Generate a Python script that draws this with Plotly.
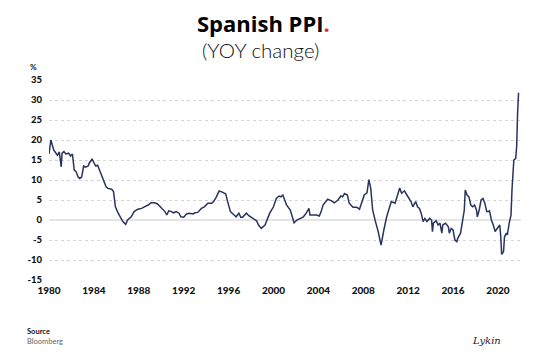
import plotly.graph_objects as go

dates = [
 "1980-01","1980-03","1980-04","1980-06","1980-09","1980-10","1980-12",
 "1981-02","1981-03","1981-05","1981-07","1981-10","1981-12",
 "1982-02","1982-03","1982-04","1982-06","1982-08","1982-10","1982-12",
 "1983-02","1983-04","1983-07","1983-08","1983-11",
 "1984-01","1984-03","1984-05","1984-07","1984-10","1984-12",
 "1985-02","1985-04","1985-08","1985-10","1985-12",
 "1986-03","1986-05","1986-08","1986-11",
 "1987-01","1987-05","1987-08","1987-12",
 "1988-04","1988-07","1988-11",
 "1989-02","1989-06","1989-09",
 "1990-01","1990-05","1990-07","1990-09","1990-12",
 "1991-02","1991-05","1991-08","1991-10",
 "1992-01","1992-04","1992-07","1992-11",
 "1993-01","1993-04","1993-08","1993-11",
 "1994-03","1994-07","1994-09","1994-12",
 "1995-03","1995-07","1995-10","1995-12",
 "1996-03","1996-07","1996-09","1996-12",
 "1997-02","1997-04","1997-08","1997-11",
 "1998-03","1998-07","1998-09","1998-12",
 "1999-04","1999-06","1999-09",
 "2000-01","2000-04","2000-07","2000-09","2000-11",
 "2001-01","2001-03","2001-07","2001-09","2001-11",
 "2002-02","2002-05","2002-09","2002-12",
 "2003-03","2003-04","2003-07","2003-11",
 "2004-02","2004-04","2004-06","2004-09","2004-11",
 "2005-03","2005-06","2005-10",
 "2006-01","2006-03","2006-05","2006-08","2006-10",
 "2007-02","2007-06","2007-09","2007-12",
 "2008-02","2008-05","2008-07","2008-09","2008-11",
 "2009-02","2009-05","2009-08","2009-09","2009-11",
 "2010-02","2010-04","2010-07","2010-11",
 "2011-02","2011-04","2011-06","2011-09","2011-11",
 "2012-02","2012-04","2012-06","2012-09","2012-11",
 "2013-01","2013-03","2013-05","2013-07","2013-09","2013-12",
 "2014-02","2014-03","2014-04","2014-07","2014-09","2014-11",
 "2015-01","2015-02","2015-05","2015-08","2015-09","2015-11",
 "2016-01","2016-03","2016-05","2016-06","2016-09","2016-11",
 "2017-01","2017-02","2017-04","2017-06","2017-08","2017-10","2017-12",
 "2018-02","2018-03","2018-05","2018-07","2018-09","2018-11",
 "2019-01","2019-03","2019-04","2019-06","2019-08","2019-10","2019-11",
 "2020-01","2020-03","2020-04","2020-05","2020-07","2020-08","2020-10","2020-11",
 "2021-01","2021-02","2021-03","2021-04","2021-05","2021-06","2021-08","2021-09","2021-10","2021-11",
]

ppi_yoy = [
 16.5,20.0,19.2,17.5,16.5,16.2,17.0,
 13.3,16.7,17.1,16.5,16.7,16.0,
 16.5,14.6,12.5,12.1,10.8,10.4,10.8,
 13.5,13.2,13.5,14.2,15.2,
 14.2,13.5,13.7,12.5,10.8,9.2,
 8.3,7.9,7.7,7.1,3.3,
 1.7,0.7,-0.4,-1.1,
 0.0,0.8,2.1,2.7,
 2.9,3.3,3.75,
 4.3,4.3,4.0,
 2.9,2.1,1.25,2.3,2.1,
 1.8,2.1,1.7,0.8,
 0.7,1.5,1.7,1.5,
 1.8,1.9,2.9,3.3,
 4.2,4.2,4.6,5.8,
 7.25,6.9,6.5,4.6,
 2.1,1.25,0.8,1.7,
 0.7,0.7,1.7,1.0,
 0.4,-0.2,-1.25,-2.1,
 -1.25,0.0,1.7,
 3.3,5.4,6.0,5.8,6.25,
 5.0,3.75,2.5,0.8,-0.7,
 0.0,0.4,0.8,1.7,
 2.9,1.25,1.25,1.25,
 1.0,2.1,3.75,4.6,5.2,
 4.8,4.3,5.0,
 6.0,5.8,6.6,6.25,4.2,
 3.2,3.2,2.7,4.6,
 6.25,6.8,10.1,7.9,2.5,
 -0.4,-2.9,-6.3,-4.6,-2.5,
 0.8,2.5,4.6,4.2,
 6.8,8.0,6.7,7.3,6.5,
 5.4,4.6,3.3,4.6,3.3,
 2.9,1.7,-0.4,0.4,-0.4,0.4,
 0.0,-2.9,-0.8,-0.2,-1.25,-0.8,
 -3.3,-1.25,-0.8,-1.7,-3.3,-2.1,
 -2.5,-5.0,-5.4,-4.6,-3.3,-0.4,
 2.5,7.5,6.25,5.8,3.75,3.3,3.75,
 2.5,0.8,2.5,5.0,5.4,4.2,
 2.1,2.1,2.3,0.0,-1.25,-2.9,-2.5,
 -1.7,-1.25,-4.2,-8.6,-7.9,-4.2,-3.3,-3.75,
 -0.8,0.8,1.2,7.5,12.5,15.0,15.4,18.3,26.7,31.8,
]

x_ticks = ["1980","1984","1988","1992","1996","2000","2004","2008","2012","2016","2020"]
y_ticks = [-15,-10,-5,0,5,10,15,20,25,30,35]

fig = go.Figure()
fig.add_trace(go.Scatter(
    x=[d + "-01" for d in dates], y=ppi_yoy, mode="lines",
    line=dict(color="#27345e", width=1.5), hoverinfo="skip", showlegend=False))

fig.update_layout(
    width=542, height=353,
    margin=dict(l=41, r=29, t=72, b=81),
    paper_bgcolor="white", plot_bgcolor="white",
    font=dict(family="Lato", color="#111111"),
    showlegend=False,
)
fig.update_xaxes(
    type="date", range=["1980-01-01", "2022-01-20"],
    tickvals=[t + "-01-01" for t in x_ticks], ticktext=x_ticks,
    showgrid=False, zeroline=False, showline=False, ticks="",
    ticklabelstandoff=3,
    tickfont=dict(family="Lato", size=10, color="#111111", weight=900),
)
fig.update_yaxes(
    range=[-15, 35], tickvals=y_ticks, ticktext=[str(v) for v in y_ticks],
    showgrid=True, gridcolor="#d4d4d4", griddash="dot", gridwidth=1,
    zeroline=True, zerolinecolor="#e4e4e4", zerolinewidth=2,
    showline=False, ticks="", ticklabelstandoff=6,
    tickfont=dict(family="Lato", size=9.5, color="#111111", weight=900),
)

fig.add_annotation(xref="paper", yref="paper", x=0.455, y=1, xanchor="center", yanchor="middle",
    yshift=57, showarrow=False,
    text="<b>Spanish PPI</b><span style='color:#e0302c'><b>.</b></span>",
    font=dict(family="Open Sans", size=22, color="#000000", weight=800))
fig.add_annotation(xref="paper", yref="paper", x=0.448, y=1, xanchor="center", yanchor="middle",
    yshift=30, showarrow=False, text="(YOY change)",
    font=dict(family="Lato", size=20.5, color="#111111", weight=300))
fig.add_annotation(xref="paper", yref="paper", x=0, y=1, xanchor="right", yanchor="middle",
    xshift=-10, yshift=13, showarrow=False, text="<b>%</b>",
    font=dict(family="Lato", size=8, color="#111111"))
fig.add_annotation(xref="paper", yref="paper", x=0, y=0, xanchor="left", yanchor="middle",
    xshift=-24, yshift=-51, showarrow=False, text="<b>Source</b>",
    font=dict(family="Lato", size=7.5, color="#111111"))
fig.add_annotation(xref="paper", yref="paper", x=0, y=0, xanchor="left", yanchor="middle",
    xshift=-24, yshift=-61, showarrow=False, text="Bloomberg",
    font=dict(family="Lato", size=7.5, color="#666666"))
fig.add_annotation(xref="paper", yref="paper", x=1, y=0, xanchor="right", yanchor="middle",
    xshift=-18, yshift=-60, showarrow=False, text="<i>Lykin</i>",
    font=dict(family="DejaVu Serif", size=10, color="#222222"))

fig.write_html("out.html")
